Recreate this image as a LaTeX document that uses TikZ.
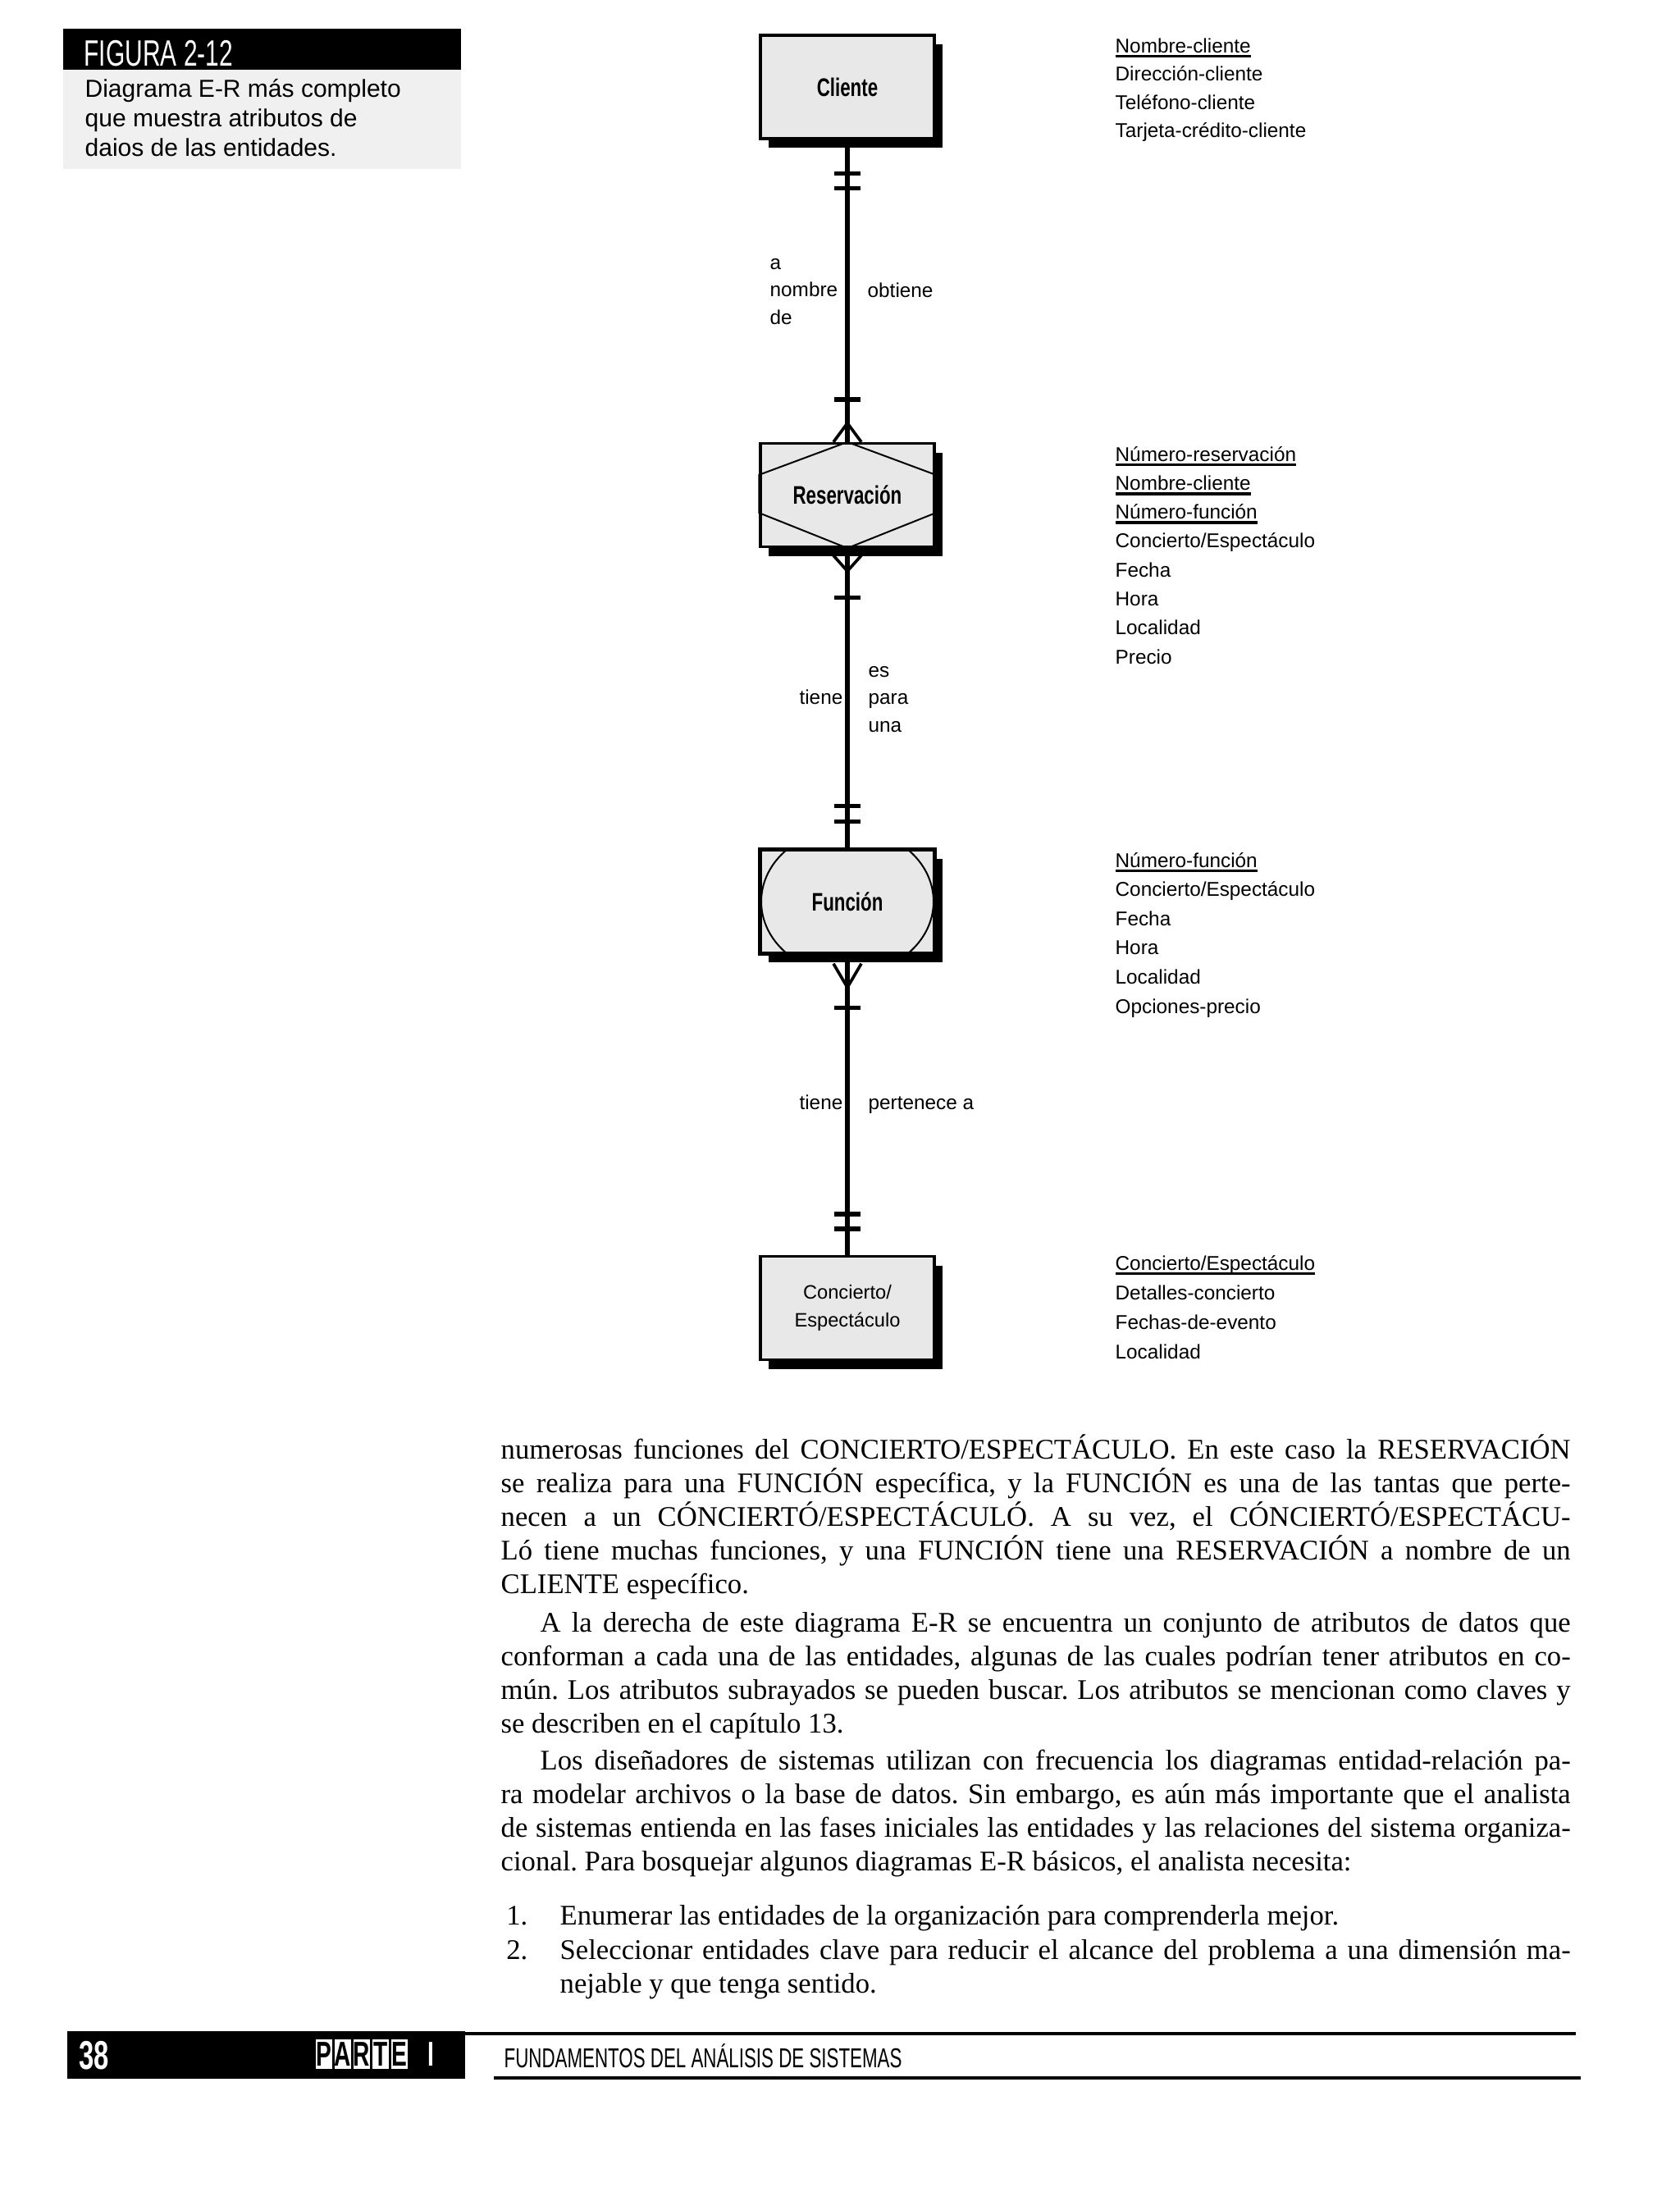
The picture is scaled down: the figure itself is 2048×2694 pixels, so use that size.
\documentclass[tikz,border=0pt]{standalone}
\usepackage{fontspec}
\setmainfont{Liberation Serif}
\setsansfont{Liberation Sans}
\newfontfamily\angosta[FakeStretch=0.72]{Liberation Sans}
\newfontfamily\estrecha[FakeStretch=0.67]{Liberation Sans}
\usetikzlibrary{calc,shadows}
\frenchspacing

\newcommand{\clave}[1]{\setbox0\hbox{#1}\rlap{\rule[-1.9pt]{\wd0}{1.1pt}}\box0}

\begin{document}
\begin{tikzpicture}[x=0.3pt,y=-0.3pt,
    entidad/.style={draw,line width=1pt,fill=black!9,minimum width=63.6pt,minimum height=37.8pt,inner sep=0pt,
        drop shadow={shadow xshift=3pt,shadow yshift=-3.3pt,fill=black,opacity=1},
        font=\angosta\bfseries\fontsize{9.3}{11}\selectfont},
    atributo/.style={anchor=base west,inner sep=0pt,font=\sffamily\fontsize{7.3}{9}\selectfont},
    etiqueta/.style={inner sep=0pt,align=left,font=\sffamily\fontsize{7.3}{10}\selectfont},
    relacion/.style={line width=1.6pt},
    barra/.style={line width=1.6pt},
    pata/.style={line width=1.1pt},
    parrafo/.style={anchor=base west,inner sep=0pt,text width=391.2pt,align=justify,
        font=\rmfamily\fontsize{10.4}{12.36}\selectfont\frenchspacing},
    letrero/.style={fill=white,minimum width=6pt,minimum height=10.8pt,inner sep=0pt,
        font=\estrecha\bfseries\fontsize{12.6}{13}\selectfont}]

\useasboundingbox (0,0) rectangle (2048,2694);

% leyenda de la figura
\fill[black] (77,35) rectangle (562,85);
\fill[black!6] (77,85) rectangle (562,206);
\node[anchor=base west,inner sep=0pt,text=white,font=\estrecha\fontsize{13.4}{14}\selectfont] (figura) at (102,80) {FIGURA 2-12};
\node[anchor=base west,inner sep=0pt,font=\sffamily\fontsize{9}{12}\selectfont] (leyenda1) at (103,118) {Diagrama E-R más completo};
\node[anchor=base west,inner sep=0pt,font=\sffamily\fontsize{9}{12}\selectfont] (leyenda2) at (103,154) {que muestra atributos de};
\node[anchor=base west,inner sep=0pt,font=\sffamily\fontsize{9}{12}\selectfont] (leyenda3) at (103,190) {daios de las entidades.};

% entidades
\node[entidad] (cliente) at (1033,106) {Cliente};
\node[entidad] (reservacion) at (1033,603.5) {Reservación};
\node[entidad] (funcion) at (1033,1099) {Función};
\node[entidad,font=\sffamily\fontsize{7.1}{10.2}\selectfont,align=center] (concierto) at (1033,1594.5) {Concierto/\\Espectáculo};

\draw[line width=0.6pt] (reservacion.north) -- ($(reservacion.north west)+(0,40)$)
    -- ($(reservacion.south west)+(0,-43)$) -- (reservacion.south)
    -- ($(reservacion.south east)+(0,-43)$) -- ($(reservacion.north east)+(0,40)$) -- cycle;
\begin{scope}
\clip (funcion.south west) rectangle (funcion.north east);
\draw[line width=0.6pt] (funcion.center) ellipse [x radius=31.5pt, y radius=26.7pt];
\end{scope}
\draw[line width=1pt] (funcion.south west) rectangle (funcion.north east);

% relaciones
\draw[relacion] (cliente) -- (reservacion);
\draw[relacion] (reservacion) -- (funcion);
\draw[relacion] (funcion) -- (concierto);

\draw[barra] ($(cliente.south)+(-16,41)$) -- +(32,0);
\draw[barra] ($(cliente.south)+(-16,59)$) -- +(32,0);
\draw[barra] ($(reservacion.north)+(-16,-52)$) -- +(32,0);
\draw[pata] ($(reservacion.north)+(-17,0)$) -- ($(reservacion.north)+(0,-23)$) -- ($(reservacion.north)+(17,0)$);
\draw[pata] ($(reservacion.south)+(-17,9)$) -- ($(reservacion.south)+(0,28)$) -- ($(reservacion.south)+(17,9)$);
\draw[barra] ($(reservacion.south)+(-16,60)$) -- +(32,0);
\draw[barra] ($(funcion.north)+(-16,-52)$) -- +(32,0);
\draw[barra] ($(funcion.north)+(-16,-33)$) -- +(32,0);
\draw[pata] ($(funcion.south)+(-17,11)$) -- ($(funcion.south)+(0,40)$) -- ($(funcion.south)+(17,11)$);
\draw[barra] ($(funcion.south)+(-16,65)$) -- +(32,0);
\draw[barra] ($(concierto.north)+(-16,-50)$) -- +(32,0);
\draw[barra] ($(concierto.north)+(-16,-32)$) -- +(32,0);

\node[etiqueta,anchor=base west] (anombre) at (938,395) {a\\nombre\\de};
\node[etiqueta,anchor=base west] (obtiene) at (1057,362) {obtiene};
\node[etiqueta,anchor=base east] (tiene1) at (1028,858) {tiene};
\node[etiqueta,anchor=base west] (espara) at (1058,892) {es\\para\\una};
\node[etiqueta,anchor=base east] (tiene2) at (1028,1352) {tiene};
\node[etiqueta,anchor=base west] (pertenece) at (1058,1352) {pertenece a};

% atributos
\node[atributo] (cli1) at (1359,64) {\clave{Nombre-cliente}};
\node[atributo] (cli2) at (1359,98.5) {Dirección-cliente};
\node[atributo] (cli3) at (1359,133) {Teléfono-cliente};
\node[atributo] (cli4) at (1359,167.5) {Tarjeta-crédito-cliente};

\node[atributo] (res1) at (1359,562) {\clave{Número-reservación}};
\node[atributo] (res2) at (1359,597.3) {\clave{Nombre-cliente}};
\node[atributo] (res3) at (1359,632.6) {\clave{Número-función}};
\node[atributo] (res4) at (1359,667.9) {Concierto/Espectáculo};
\node[atributo] (res5) at (1359,703.2) {Fecha};
\node[atributo] (res6) at (1359,738.5) {Hora};
\node[atributo] (res7) at (1359,773.8) {Localidad};
\node[atributo] (res8) at (1359,809.1) {Precio};

\node[atributo] (fun1) at (1359,1057) {\clave{Número-función}};
\node[atributo] (fun2) at (1359,1092.6) {Concierto/Espectáculo};
\node[atributo] (fun3) at (1359,1128.2) {Fecha};
\node[atributo] (fun4) at (1359,1163.8) {Hora};
\node[atributo] (fun5) at (1359,1199.4) {Localidad};
\node[atributo] (fun6) at (1359,1235) {Opciones-precio};

\node[atributo] (con1) at (1359,1548) {\clave{Concierto/Espectáculo}};
\node[atributo] (con2) at (1359,1584) {Detalles-concierto};
\node[atributo] (con3) at (1359,1620) {Fechas-de-evento};
\node[atributo] (con4) at (1359,1656) {Localidad};

% texto
\node[parrafo] (parrafo1) at (610,1778) {numerosas funciones del CONCIERTO/ESPECTÁCULO. En este caso la RESERVACIÓN\linebreak
se realiza para una FUNCIÓN específica, y la FUNCIÓN es una de las tantas que perte-\linebreak
necen a un CÓNCIERTÓ/ESPECTÁCULÓ. A su vez, el CÓNCIERTÓ/ESPECTÁCU-\linebreak
Ló tiene muchas funciones, y una FUNCIÓN tiene una RESERVACIÓN a nombre de un\linebreak
CLIENTE específico.};
\node[parrafo] (parrafo2) at (610,1989) {\hspace*{14.4pt}A la derecha de este diagrama E-R se encuentra un conjunto de atributos de datos que\linebreak
conforman a cada una de las entidades, algunas de las cuales podrían tener atributos en co-\linebreak
mún. Los atributos subrayados se pueden buscar. Los atributos se mencionan como claves y\linebreak
se describen en el capítulo 13.};
\node[parrafo] (parrafo3) at (610,2157) {\hspace*{14.4pt}Los diseñadores de sistemas utilizan con frecuencia los diagramas entidad-relación pa-\linebreak
ra modelar archivos o la base de datos. Sin embargo, es aún más importante que el analista\linebreak
de sistemas entienda en las fases iniciales las entidades y las relaciones del sistema organiza-\linebreak
cional. Para bosquejar algunos diagramas E-R básicos, el analista necesita:};
\node[parrafo,anchor=base west,text width=0pt,align=left] (num1) at (615,2346) {1.};
\node[parrafo,text width=369.6pt] (item1) at (682,2346) {Enumerar las entidades de la organización para comprenderla mejor.};
\node[parrafo,anchor=base west,text width=0pt,align=left] (num2) at (615,2388) {2.};
\node[parrafo,text width=369.6pt] (item2) at (682,2388) {Seleccionar entidades clave para reducir el alcance del problema a una dimensión ma-\linebreak
nejable y que tenga sentido.};

% pie de pagina
\fill[black] (82,2476) rectangle (567,2534);
\node[anchor=base west,inner sep=0pt,text=white,font=\estrecha\bfseries\fontsize{14.7}{15}\selectfont] (pagina) at (96,2522) {38};
\node[letrero] (letraP) at (395,2504) {P};
\node[letrero] (letraA) at (418,2504) {A};
\node[letrero] (letraR) at (441,2504) {R};
\node[letrero] (letraT) at (464,2504) {T};
\node[letrero] (letraE) at (487,2504) {E};
\node[letrero,fill=none,text=white] (letraI) at (525,2504) {I};
\draw[line width=1pt] (567,2479) -- (1921,2479);
\draw[line width=1pt] (602,2533) -- (1927,2533);
\node[anchor=base west,inner sep=0pt,font=\estrecha\fontsize{10}{12}\selectfont] (titulo) at (614,2520) {FUNDAMENTOS DEL ANÁLISIS DE SISTEMAS};
\end{tikzpicture}
\end{document}
